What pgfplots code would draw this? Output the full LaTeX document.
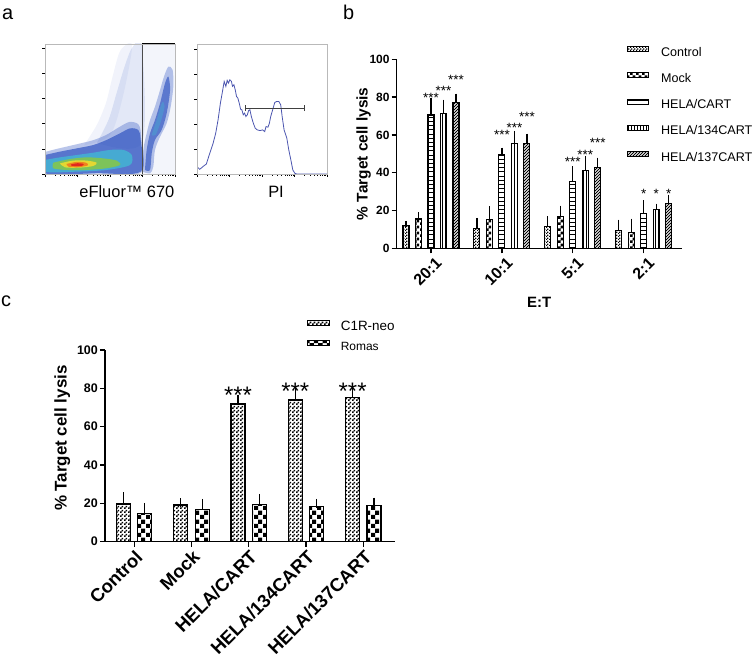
\documentclass[border=0pt]{standalone}
\usepackage{pgfplots}
\pgfplotsset{compat=1.18}
\usepackage{fontspec}
\setmainfont{Liberation Sans}
\usetikzlibrary{patterns}
\pgfplotsset{/pgf/number format/assume math mode=true}

% patterns
\pgfdeclarepatternformonly{finecheck}{\pgfqpoint{0bp}{0bp}}{\pgfqpoint{3bp}{3bp}}{\pgfqpoint{3bp}{3bp}}{%
  \pgfpathrectangle{\pgfqpoint{0bp}{0bp}}{\pgfqpoint{1.5bp}{1.5bp}}%
  \pgfpathrectangle{\pgfqpoint{1.5bp}{1.5bp}}{\pgfqpoint{1.5bp}{1.5bp}}\pgfusepath{fill}}
\pgfdeclarepatternformonly{finecheckc}{\pgfqpoint{0bp}{0bp}}{\pgfqpoint{4bp}{4bp}}{\pgfqpoint{4bp}{4bp}}{%
  \pgfpathrectangle{\pgfqpoint{0bp}{0bp}}{\pgfqpoint{2bp}{2bp}}%
  \pgfpathrectangle{\pgfqpoint{2bp}{2bp}}{\pgfqpoint{2bp}{2bp}}\pgfusepath{fill}}
\pgfdeclarepatternformonly{checkm}{\pgfqpoint{0bp}{0bp}}{\pgfqpoint{6bp}{6bp}}{\pgfqpoint{6bp}{6bp}}{%
  \pgfpathrectangle{\pgfqpoint{0bp}{0bp}}{\pgfqpoint{3bp}{3bp}}%
  \pgfpathrectangle{\pgfqpoint{3bp}{3bp}}{\pgfqpoint{3bp}{3bp}}\pgfusepath{fill}}
\pgfdeclarepatternformonly{checkr}{\pgfqpoint{0bp}{0bp}}{\pgfqpoint{8.6bp}{8.6bp}}{\pgfqpoint{8.6bp}{8.6bp}}{%
  \pgfpathrectangle{\pgfqpoint{0bp}{0bp}}{\pgfqpoint{4.3bp}{4.3bp}}%
  \pgfpathrectangle{\pgfqpoint{4.3bp}{4.3bp}}{\pgfqpoint{4.3bp}{4.3bp}}\pgfusepath{fill}}
\pgfdeclarepatternformonly{hl}{\pgfqpoint{-1bp}{0bp}}{\pgfqpoint{5bp}{4.2bp}}{\pgfqpoint{4bp}{4.2bp}}{%
  \pgfsetlinewidth{0.8bp}\pgfpathmoveto{\pgfqpoint{-1bp}{2.1bp}}\pgfpathlineto{\pgfqpoint{5bp}{2.1bp}}\pgfusepath{stroke}}
\pgfdeclarepatternformonly{vl}{\pgfqpoint{0bp}{-1bp}}{\pgfqpoint{3bp}{5bp}}{\pgfqpoint{3bp}{4bp}}{%
  \pgfsetlinewidth{0.7bp}\pgfpathmoveto{\pgfqpoint{1.5bp}{-1bp}}\pgfpathlineto{\pgfqpoint{1.5bp}{5bp}}\pgfusepath{stroke}}
\pgfdeclarepatternformonly{dl}{\pgfqpoint{-1bp}{-1bp}}{\pgfqpoint{4bp}{4bp}}{\pgfqpoint{3bp}{3bp}}{%
  \pgfsetlinewidth{0.8bp}\pgfpathmoveto{\pgfqpoint{0bp}{0bp}}\pgfpathlineto{\pgfqpoint{3.1bp}{3.1bp}}\pgfusepath{stroke}}

\definecolor{dblue}{RGB}{55,90,195}
\definecolor{dcyan}{RGB}{70,170,210}
\definecolor{dgreen}{RGB}{125,195,90}
\definecolor{dyellow}{RGB}{228,215,50}
\definecolor{dorange}{RGB}{240,130,30}
\definecolor{dred}{RGB}{225,40,30}
\definecolor{histc}{RGB}{75,85,175}

\pgfplotsset{
  flowax/.style={scale only axis, width=130bp, height=130bp, anchor=south west,
    xmin=0, xmax=100, ymin=0, ymax=100, axis on top,
    axis line style={gray!55, line width=0.7bp},
    tick align=outside, major tick length=3bp, minor tick length=1.8bp,
    tick style={black, line width=0.5bp},
    xtick pos=bottom, ytick pos=left,
    xtick={0,25,50,75,100},
    minor xtick={7.5,11.9,15.1,17.5,19.5,21.1,22.6,23.9,
                 32.5,36.9,40.1,42.5,44.5,46.1,47.6,48.9,
                 57.5,61.9,65.1,67.5,69.5,71.1,72.6,73.9,
                 82.5,86.9,90.1,92.5,94.5,96.1,97.6,98.9},
    xticklabels={}, yticklabels={},
    xlabel style={font=\fontsize{16.5}{19}\selectfont, anchor=north, inner sep=0pt}},
  gp/.style={scale only axis, anchor=south west,
    axis x line*=bottom, axis y line*=left,
    axis line style={line width=1.3bp, black},
    tick align=outside, major tick length=5bp,
    tick style={line width=1.3bp, black},
    ymin=0, ymax=100, ytick={0,20,40,60,80,100},
    error bars/error bar style={line width=1.2bp, black},
    legend cell align=left},
  bl/.style={legend image code/.code={\draw[##1, line width=1bp] (0bp,1.5bp) rectangle (21.7bp,6.5bp);}},
}

\begin{document}
\begin{tikzpicture}[x=1bp,y=1bp]
\path[use as bounding box] (0,0) rectangle (753,657);

% panel letters
\node[anchor=base west, inner sep=0pt, font=\fontsize{20}{24}\selectfont] at (2,637) {a};
\node[anchor=base west, inner sep=0pt, font=\fontsize{20}{24}\selectfont] at (343,637) {b};
\node[anchor=base west, inner sep=0pt, font=\fontsize{20}{24}\selectfont] at (1,350) {c};

% ---------------- panel a: density plot ----------------
\begin{axis}[flowax, at={(45bp,483bp)},
  ytick={0,19.4,38.8,58.2,77.6,97},
  xlabel={eFluor™ 670}, xlabel style={at={(axis description cs:0.63,-0.09)}}]
% sparse regions
\addplot[draw=none, fill=dblue, fill opacity=0.06] coordinates {(74.5,0)(74.5,100)(100,100)(100,0)(74.5,0)};
\addplot[draw=none, fill=dblue, fill opacity=0.14, smooth] coordinates {(40,24)(49,42)(55,62)(61,82)(67,97)(74.5,99)(74.5,24)(40,24)};
\addplot[draw=none, fill=dblue, fill opacity=0.07, smooth] coordinates {(30,22)(40,38)(47,55)(52,75)(58,95)(67,99)(60,60)(50,30)(30,22)};
% main population
\addplot[draw=none, fill=dblue, fill opacity=0.35, smooth] coordinates {(0,17)(12,20)(25,23)(37,26)(47,30)(57,36)(65,40)(72,38)(74,28)(74,1)(40,0.3)(0,0.3)(0,17)};
\addplot[draw=none, fill=dblue, fill opacity=0.75, smooth] coordinates {(0,14.6)(11.5,17.2)(24.4,19.7)(37.2,22.3)(47.4,26.2)(57.7,31.3)(65.4,35.1)(71.8,33.8)(73.6,26.2)(73.6,1.8)(40,0.6)(0,0.5)(0,14.6)};
\addplot[draw=none, fill=dcyan, smooth] coordinates {(0,10.8)(11.5,12.8)(24.4,14.6)(37.2,16.4)(50,18.5)(60.3,18.5)(66.7,14.6)(65.4,6.9)(47.4,3.1)(24.4,1.8)(0,1.8)(0,10.8)};
\addplot[draw=none, fill=dgreen, smooth] coordinates {(6.4,8.7)(19.2,11.5)(32,12.8)(44.9,12)(55.1,10.3)(57.7,6.9)(47.4,4.4)(32,3.1)(16.7,3.1)(6.4,4.4)(6.4,8.7)};
\addplot[draw=none, fill=dyellow, smooth] coordinates {(11.5,8.2)(21.8,10.3)(32,10.3)(39.7,8.7)(37.2,6.2)(26.9,4.9)(15.4,5.1)(11.5,8.2)};
\addplot[draw=none, fill=dorange, smooth] coordinates {(16.5,7.7)(24.4,9.3)(31.5,8.7)(33,6.7)(25.6,5.2)(18.2,5.6)(16.5,7.7)};
\addplot[draw=none, fill=dred, smooth] coordinates {(20,7.4)(25,8.3)(29.5,7.8)(29,6.5)(24,6)(20,6.5)(20,7.4)};
% right population
\addplot[draw=none, fill=dblue, fill opacity=0.35, smooth] coordinates {(74.8,1.8)(75.6,18.5)(78.2,31.3)(80.8,41.5)(84.6,51.8)(88.5,64.6)(91.5,74.9)(94.9,82.6)(98.2,80)(98.7,67.2)(96.7,51.8)(93.6,39)(88.5,28.7)(84.6,18.5)(83.3,5.6)(80.8,0.5)(74.8,1.8)};
\addplot[draw=none, fill=dblue, fill opacity=0.7, smooth] coordinates {(76.9,3.1)(78.2,18.5)(80.8,31.3)(84.6,41.5)(88.5,54.4)(92.3,69.7)(94.9,74.9)(96.2,64.6)(93.6,46.7)(89.7,33.8)(84.6,26.2)(82.1,15.9)(80.8,3.1)(76.9,3.1)};
\addplot[draw=none, fill=dcyan, fill opacity=0.45, smooth] coordinates {(82,30)(86,42)(90,55)(92,52)(89,40)(85,30)(82,30)};
% gate
\addplot[gray!60!black, line width=0.7bp] coordinates {(74.5,0)(74.5,100)};
\addplot[black, line width=1.1bp] coordinates {(74.5,100)(100,100)};
\end{axis}

% ---------------- panel a: histogram ----------------
\begin{axis}[flowax, at={(197bp,483bp)},
  ytick={0,19.2,38.4,57.6,76.8,96},
  xlabel={PI}, xlabel style={at={(axis description cs:0.608,-0.09)}}]
\addplot[histc, line width=0.8bp] coordinates {
(0,5.7)(2.1,3.6)(4.6,5.7)(7.2,7.7)(9.8,15.9)(12.4,23.7)(14.4,31.4)(16.2,41.6)(18.0,54.5)(19.6,63.5)(20.9,71.2)(22.2,67.4)(23.2,72.0)(24.2,69.9)(25.3,72.5)(26.5,71.2)(27.3,67.4)(28.4,68.6)(29.4,64.8)(30.4,59.6)(31.4,58.4)(32.5,54.5)(33.5,49.9)(34.5,49.4)(35.6,45.5)(36.6,46.8)(37.6,44.2)(38.7,45.5)(39.7,48.8)(40.7,49.4)(41.8,44.2)(43.3,39.1)(44.8,35.2)(46.4,33.9)(48.5,33.4)(50.5,33.9)(52.1,32.6)(53.1,36.5)(54.6,36.0)(55.7,39.1)(56.7,44.2)(58.2,49.4)(59.8,55.0)(61.3,55.8)(62.9,55.8)(64.4,53.2)(65.5,44.2)(67.0,33.9)(69.1,27.5)(70.6,18.5)(72.2,10.8)(73.7,3.1)(75.3,0.5)(76.8,0)(100,0)};
\addplot[black!75, line width=1bp] coordinates {(37.6,50.6)(82.5,50.6)};
\addplot[black!75, line width=1bp] coordinates {(37.6,48.3)(37.6,52.9)};
\addplot[black!75, line width=1bp] coordinates {(82.5,48.3)(82.5,52.9)};
\end{axis}

% ---------------- panel b ----------------
\begin{axis}[gp, at={(396.7bp,408.7bp)}, width=285bp, height=189bp,
  xmin=-0.484, xmax=3.536,
  ybar=6.5bp, bar width=6bp,
  xtick={0,1,2,3}, xticklabels={20:1,10:1,5:1,2:1},
  xticklabel style={xshift=8bp, yshift=-7bp, rotate=45, anchor=east, inner sep=0pt, font=\bfseries\fontsize{16}{18}\selectfont},
  yticklabel style={inner sep=0pt, xshift=-2bp, font=\bfseries\fontsize{12}{14}\selectfont},
  ylabel={\% Target cell lysis},
  ylabel style={at={(axis description cs:-0.116,0.5)}, anchor=center, font=\bfseries\fontsize{15.5}{18}\selectfont},
  xlabel={E:T},
  xlabel style={at={(axis description cs:0.5,-0.258)}, anchor=north, inner sep=0pt, font=\bfseries\fontsize{15}{18}\selectfont},
  legend style={at={(0.807,1.069)}, anchor=north west, draw=none, fill=none,
    inner sep=0pt, outer sep=0pt, font=\fontsize{12.6}{14}\selectfont,
    row sep=13.2bp, column sep=11.7bp,
    nodes={inner sep=0pt, text height=9bp, text depth=3bp}},
]
\addplot[bl, draw=black, line width=1.1bp, pattern=finecheck,
  error bars/.cd, y dir=plus, y explicit, error mark options={line width=1.2bp, mark size=3bp}]
  coordinates {(0,12.0) +- (0,0.9) (1,10.6) +- (0,3.9) (2,11.5) +- (0,3.8) (3,9.3) +- (0,4.3)};
\addlegendentry{Control}
\addplot[bl, draw=black, line width=1.1bp, pattern=checkm,
  error bars/.cd, y dir=plus, y explicit, error mark options={line width=1.2bp, mark size=3bp}]
  coordinates {(0,15.5) +- (0,2.1) (1,15.0) +- (0,5.6) (2,16.8) +- (0,4.2) (3,8.3) +- (0,5.8)};
\addlegendentry{Mock}
\addplot[bl, draw=black, line width=1.1bp, pattern=hl,
  error bars/.cd, y dir=plus, y explicit, error mark options={line width=1.2bp, mark size=3bp}]
  coordinates {(0,70.5) +- (0,7.6) (1,49.7) +- (0,2.0) (2,35.1) +- (0,6.7) (3,18.5) +- (0,5.3)};
\addlegendentry{HELA/CART}
\addplot[bl, draw=black, line width=1.1bp, pattern=vl,
  error bars/.cd, y dir=plus, y explicit, error mark options={line width=1.2bp, mark size=3bp}]
  coordinates {(0,71.3) +- (0,5.8) (1,55.4) +- (0,5.1) (2,41.1) +- (0,6.0) (3,20.3) +- (0,1.7)};
\addlegendentry{HELA/134CART}
\addplot[bl, draw=black, line width=1.1bp, pattern=dl,
  error bars/.cd, y dir=plus, y explicit, error mark options={line width=1.2bp, mark size=3bp}]
  coordinates {(0,77.2) +- (0,3.0) (1,55.4) +- (0,3.7) (2,42.7) +- (0,3.7) (3,23.8) +- (0,3.0)};
\addlegendentry{HELA/137CART}
% significance
\begin{scope}[every node/.style={anchor=base, inner sep=0pt, font=\fontsize{13.5}{14}\selectfont}]
\node at (axis cs:0,77.0) {***};
\node[xshift=12.5bp] at (axis cs:0,80.9) {***};
\node[xshift=25bp] at (axis cs:0,86.7) {***};
\node at (axis cs:1,57.3) {***};
\node[xshift=12.5bp] at (axis cs:1,61.0) {***};
\node[xshift=25bp] at (axis cs:1,66.9) {***};
\node at (axis cs:2,43.5) {***};
\node[xshift=12.5bp] at (axis cs:2,47.0) {***};
\node[xshift=25bp] at (axis cs:2,53.2) {***};
\node at (axis cs:3,26.4) {*};
\node[xshift=12.5bp] at (axis cs:3,26.4) {*};
\node[xshift=25bp] at (axis cs:3,26.4) {*};
\end{scope}
\end{axis}

% ---------------- panel c ----------------
\begin{axis}[gp, at={(105bp,115.3bp)}, width=290bp, height=191.7bp,
  xmin=-0.509, xmax=4.553,
  ybar=7.4bp, bar width=14bp,
  xtick={0,1,2,3,4}, xticklabels={Control,Mock,HELA/CART,HELA/134CART,HELA/137CART},
  xticklabel style={xshift=5bp, yshift=-7bp, rotate=45, anchor=east, inner sep=0pt, font=\bfseries\fontsize{18.5}{21}\selectfont},
  yticklabel style={inner sep=0pt, xshift=-2bp, font=\bfseries\fontsize{12.5}{14}\selectfont},
  ylabel={\% Target cell lysis},
  ylabel style={at={(axis description cs:-0.147,0.54)}, anchor=center, font=\bfseries\fontsize{17}{19}\selectfont},
  legend style={at={(0.698,1.154)}, anchor=north west, draw=none, fill=none,
    inner sep=0pt, outer sep=0pt, font=\fontsize{13}{15}\selectfont,
    row sep=6.5bp, column sep=10.7bp,
    nodes={inner sep=0pt, text height=9.5bp, text depth=3bp}},
]
\addplot[bl, draw=black, line width=1.2bp, pattern=finecheckc,
  error bars/.cd, y dir=plus, y explicit, error mark options={line width=1.2bp, mark size=4.5bp}]
  coordinates {(0,19.7) +- (0,3.8) (1,19.1) +- (0,1.2) (2,71.8) +- (0,2.6) (3,73.9) +- (0,4.4) (4,75.1) +- (0,2.6)};
\addlegendentry{\fontsize{13.5}{15}\selectfont C1R-neo}
\addplot[bl, draw=black, line width=1.2bp, pattern=checkr,
  error bars/.cd, y dir=plus, y explicit, error mark options={line width=1.2bp, mark size=4.5bp}]
  coordinates {(0,14.8) +- (0,3.1) (1,16.9) +- (0,3.1) (2,19.5) +- (0,3.1) (3,18.3) +- (0,1.7) (4,18.8) +- (0,1.9)};
\addlegendentry{\fontsize{12}{15}\selectfont Romas}
\begin{scope}[every node/.style={anchor=base, inner sep=0pt, font=\fontsize{24}{26}\selectfont}]
\node[xshift=-10.7bp] at (axis cs:2,72.2) {***};
\node[xshift=-10.7bp] at (axis cs:3,74.4) {***};
\node[xshift=-10.7bp] at (axis cs:4,74.4) {***};
\end{scope}
\end{axis}
\end{tikzpicture}
\end{document}
